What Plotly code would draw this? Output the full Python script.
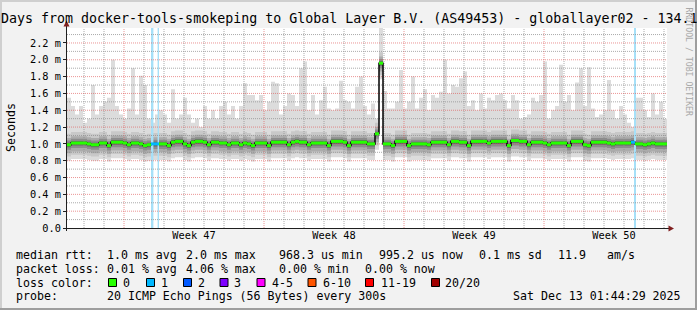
import plotly.graph_objects as go

# ---------------- data ----------------
STEP_DAYS = 0.2          # one smoke column = 0.2 day
X_SPAN_DAYS = 30.0
Y_TOP_MS = 2.378

median_ms = [
    0.99, 1.01, 1.01, 1.01, 1.01, 1.00, 0.99, 0.99, 1.01, 1.01,
    0.98, 1.02, 1.02, 1.02, 1.01, 0.99, 1.01, 1.01, 1.00, 0.98,
    0.99, 1.00, 1.00, 1.00, 1.00, 0.98, 1.02, 1.03, 1.03, 1.00,
    0.98, 1.02, 1.03, 1.03, 1.02, 0.99, 1.02, 1.02,
    1.01, 1.01, 0.99, 1.01, 1.01, 0.99, 1.01, 1.00, 0.98, 1.01,
    1.01, 1.01, 0.98, 1.02, 1.02, 1.02, 1.02, 0.99, 1.02, 1.03,
    1.02, 1.02, 0.99, 1.01, 1.01, 1.01, 1.01, 0.98, 1.03, 1.03,
    1.03, 1.02, 0.98, 1.02, 1.02, 1.02, 1.02,
    1.00, 1.00, 1.12, 1.96, 1.00, 1.00, 0.98, 1.03, 1.03, 1.03,
    0.98, 1.00, 1.00, 1.00, 1.00, 0.99, 1.02, 1.02, 1.02, 1.02,
    0.99, 1.03, 1.03, 1.02, 1.02, 0.98, 1.03, 1.03, 1.03, 1.03,
    1.01, 1.03, 1.03, 1.03, 1.03, 0.98, 1.04, 1.04,
    1.03, 1.03, 0.99, 1.02, 1.02, 1.02, 1.01, 0.99, 1.01, 1.01,
    1.01, 1.01, 0.98, 1.03, 1.03, 1.03, 0.99, 0.98, 1.02, 1.02,
    1.02, 1.02, 1.01, 1.00, 1.01, 1.01, 1.01, 1.01, 1.02, 1.00,
    1.00, 0.99, 1.00, 1.01, 1.00, 1.00, 1.00,
]

max_ms = [
    1.55, 1.45, 1.35, 1.45, 1.25, 1.30, 1.70, 1.35, 1.45, 1.50,
    1.55, 2.00, 1.45, 1.35, 1.30, 1.42, 1.90, 1.35, 1.81, 1.70,
    1.30, 1.25, 1.35, 1.40, 1.35, 1.25, 1.65, 1.30, 1.35, 1.55,
    1.35, 1.25, 1.30, 1.20, 1.45, 1.30, 1.40, 1.30,
    1.45, 1.50, 1.35, 1.45, 1.30, 1.45, 1.72, 1.58, 1.58, 1.52,
    1.58, 1.40, 1.50, 1.74, 1.72, 1.35, 1.45, 1.60, 1.58, 1.45,
    1.90, 1.98, 1.40, 1.58, 1.35, 1.52, 1.68, 1.42, 1.40, 1.42,
    1.75, 1.52, 1.50, 1.42, 1.68, 1.80, 1.45,
    1.35, 1.48, 1.30, 2.40, 1.63, 1.42, 1.42, 1.50, 1.88, 1.42,
    1.50, 1.80, 1.42, 1.55, 1.65, 1.40, 1.58, 1.55, 1.62, 2.00,
    1.60, 1.70, 1.68, 1.78, 1.86, 1.45, 1.52, 1.40, 1.60, 1.42,
    1.55, 1.52, 1.58, 1.60, 1.52, 1.42, 1.58, 1.52,
    1.30, 1.32, 1.35, 1.55, 1.50, 1.58, 1.98, 1.30, 1.40, 1.45,
    1.94, 1.50, 1.58, 1.40, 1.73, 1.90, 1.45, 1.91, 1.42, 1.32,
    1.35, 1.40, 1.76, 1.40, 1.30, 1.45, 1.35, 1.25, 1.20, 1.55,
    1.55, 1.40, 1.32, 1.60, 1.35, 1.50, 1.30,
]

# smoke layers: spread below / above the median (ms), outermost first
smoke_below = [0.19, 0.14, 0.10, 0.06, 0.03, 0.012]
smoke_above = [None, 0.13, 0.08, 0.05, 0.025, 0.008]

# packet-loss events (days from left edge) and number of lost pings
loss_start_day = [4.20, 4.53, 28.35]
loss_end_day = [4.32, 4.60, 28.45]
loss_count = [1, 1, 1]

week_start_day = [2.85, 9.85, 16.85, 23.85]
week_labels = ["Week 47", "Week 48", "Week 49", "Week 50"]
day_grid_first = 0.85
y_major = [0.0, 0.2, 0.4, 0.6, 0.8, 1.0, 1.2, 1.4, 1.6, 1.8, 2.0, 2.2]
y_major_text = ["0.0", "0.2 m", "0.4 m", "0.6 m", "0.8 m", "1.0 m", "1.2 m",
                "1.4 m", "1.6 m", "1.8 m", "2.0 m", "2.2 m"]
y_minor = [0.1, 0.3, 0.5, 0.7, 0.9, 1.1, 1.3, 1.5, 1.7, 1.9, 2.1, 2.3]

title_text = "Days from docker-tools-smokeping to Global Layer B.V. (AS49453) - globallayer02 - 134.1"

legend_rows = [
    [("median rtt:", 16), ("1.0 ms avg", 107.3), ("2.0 ms max", 186), ("968.3 us min", 279.3),
     ("995.2 us now", 379.3), ("0.1 ms sd", 479.3), ("11.9", 558.3), ("am/s", 607.3)],
    [("packet loss:", 16), ("0.01 % avg", 107.3), ("4.06 % max", 186), ("0.00 % min", 279.3),
     ("0.00 % now", 365)],
    [("loss color:", 16)],
    [("probe:", 16), ("20 ICMP Echo Pings (56 Bytes) every 300s", 107.3),
     ("Sat Dec 13 01:44:29 2025", 513.3)],
]
loss_color_labels = ["0", "1", "2", "3", "4-5", "6-10", "11-19", "20/20"]
loss_colors = ["#26ff00", "#00b8ff", "#0059ff", "#7e00ff", "#ff00ff", "#ff5500", "#ff0000", "#a10000"]
loss_box_x = [108, 146, 183, 219.5, 256.5, 307.5, 365, 431]
loss_text_x = [123, 161, 198, 234, 272, 323, 380.7, 445]

# ---------------- geometry / style ----------------
W, H = 697, 310
PL, PR, PT, PB = 67, 667, 28, 228
MONO = "DejaVu Sans Mono"
smoke_colors = ["#dcdcdc", "#c8c8c8", "#ababab", "#8c8c8c", "#666666", "#3c3c3c"]
GRID = "rgba(143,143,143,0.75)"
MGRID = "rgba(222,79,79,0.6)"


def xp(px):
    return (px - PL) / (PR - PL)


def yp(py):
    return (PB - py) / (PB - PT)


n = len(median_ms)
x0s = [i * STEP_DAYS for i in range(n)]

fig = go.Figure()


def band_poly(lo, hi):
    xs, ys = [], []
    for i in range(n):
        xs += [x0s[i], x0s[i] + STEP_DAYS]
        ys += [hi[i], hi[i]]
    for i in reversed(range(n)):
        xs += [x0s[i] + STEP_DAYS, x0s[i]]
        ys += [lo[i], lo[i]]
    return xs, ys


for k, col in enumerate(smoke_colors):
    lo = [median_ms[i] - smoke_below[k] for i in range(n)]
    if smoke_above[k] is None:
        hi = list(max_ms)
    else:
        hi = [min(median_ms[i] + smoke_above[k], max_ms[i]) for i in range(n)]
    xs, ys = band_poly(lo, hi)
    fig.add_trace(go.Scatter(x=xs, y=ys, fill="toself", fillcolor=col, mode="lines",
                             line=dict(width=0), hoverinfo="skip", showlegend=False))

# loss bars
for s, e, c in zip(loss_start_day, loss_end_day, loss_count):
    fig.add_trace(go.Scatter(x=[s, e, e, s, s], y=[0, 0, Y_TOP_MS, Y_TOP_MS, 0], fill="toself",
                             fillcolor="#a6e0f8", mode="lines", line=dict(width=0),
                             hoverinfo="skip", showlegend=False))

# grid (rrdtool draws it over the graph)
def grid_trace(vals, vertical, color):
    xs, ys = [], []
    for v in vals:
        if vertical:
            xs += [v, v, None]
            ys += [0, Y_TOP_MS, None]
        else:
            xs += [0, X_SPAN_DAYS, None]
            ys += [v, v, None]
    return go.Scatter(x=xs, y=ys, mode="lines", line=dict(color=color, width=1, dash="1px,1px"),
                      hoverinfo="skip", showlegend=False)


day_grid = [day_grid_first + d for d in range(int(X_SPAN_DAYS))]
day_grid = [d for d in day_grid if all(abs(d - w) > 1e-6 for w in week_start_day)]
fig.add_trace(grid_trace(day_grid, True, GRID))
fig.add_trace(grid_trace(y_minor, False, GRID))
fig.add_trace(grid_trace(week_start_day, True, MGRID))
fig.add_trace(grid_trace(y_major[1:], False, MGRID))

# median: black step connectors under green horizontal segments
fig.add_trace(go.Scatter(x=x0s + [x0s[-1] + STEP_DAYS], y=median_ms + [median_ms[-1]],
                         mode="lines", line=dict(color="#000000", width=1.5, shape="hv"),
                         hoverinfo="skip", showlegend=False))


def step_has_loss(i):
    a, b = x0s[i], x0s[i] + STEP_DAYS
    return any(a <= s < b for s in loss_start_day)


gx, gy, cx, cy = [], [], [], []
for i in range(n):
    seg_x = [x0s[i], x0s[i] + STEP_DAYS, None]
    seg_y = [median_ms[i], median_ms[i], None]
    if step_has_loss(i):
        cx += seg_x
        cy += seg_y
    else:
        gx += seg_x
        gy += seg_y
fig.add_trace(go.Scatter(x=gx, y=gy, mode="lines", line=dict(color=loss_colors[0], width=3),
                         hoverinfo="skip", showlegend=False))
fig.add_trace(go.Scatter(x=cx, y=cy, mode="lines", line=dict(color=loss_colors[1], width=3),
                         hoverinfo="skip", showlegend=False))

# ---------------- annotations ----------------
ann = []


def text(t, px, py, size, color="#000000", anchor="left", angle=0):
    ann.append(dict(text=t, x=xp(px), y=yp(py), xref="paper", yref="paper", showarrow=False,
                    xanchor=anchor, yanchor="middle", textangle=angle,
                    font=dict(family=MONO, size=size, color=color)))


text(title_text, -1, 18.5, 13.3)
text("RRDTOOL / TOBI OETIKER", 688.5, 62, 8.2, color="#a8a8a8", anchor="center", angle=90)
text("Seconds", 11, 128, 11.6, anchor="center", angle=-90)

row_y = [254.5, 268.5, 282.5, 296.0]
for row, ry in zip(legend_rows, row_y):
    for t, px in row:
        text(t, px - 2, ry, 11.6)
for lab, tx in zip(loss_color_labels, loss_text_x):
    text(lab, tx - 2, row_y[2], 11.6)

shapes = []
for col, bx in zip(loss_colors, loss_box_x):
    shapes.append(dict(type="rect", xref="paper", yref="paper", x0=xp(bx + 0.5), x1=xp(bx + 8.5),
                       y0=yp(278.5), y1=yp(286.5), fillcolor=col,
                       line=dict(color="#000000", width=1)))

# axes with arrows
shapes.append(dict(type="line", xref="paper", yref="paper", x0=xp(66), x1=xp(669),
                   y0=yp(228.5), y1=yp(228.5), line=dict(color="#1f1f1f", width=1)))
shapes.append(dict(type="line", xref="paper", yref="paper", x0=xp(66.5), x1=xp(66.5),
                   y0=yp(231), y1=yp(25), line=dict(color="#1f1f1f", width=1)))
shapes.append(dict(type="path", xref="paper", yref="paper",
                   path="M %f %f L %f %f L %f %f Z" % (xp(668.5), yp(225.5), xp(674), yp(228.5), xp(668.5), yp(231.5)),
                   fillcolor="#801f1f", line=dict(width=0)))
shapes.append(dict(type="path", xref="paper", yref="paper",
                   path="M %f %f L %f %f L %f %f Z" % (xp(63.5), yp(26.5), xp(66.5), yp(20.5), xp(69.5), yp(26.5)),
                   fillcolor="#801f1f", line=dict(width=0)))

# frame shading
shapes.append(dict(type="rect", xref="paper", yref="paper", x0=xp(0), x1=xp(W), y0=yp(0), y1=yp(2),
                   fillcolor="#cfcfcf", line=dict(width=0)))
shapes.append(dict(type="rect", xref="paper", yref="paper", x0=xp(0), x1=xp(2), y0=yp(0), y1=yp(H),
                   fillcolor="#cfcfcf", line=dict(width=0)))
shapes.append(dict(type="rect", xref="paper", yref="paper", x0=xp(W - 2), x1=xp(W), y0=yp(0), y1=yp(H),
                   fillcolor="#9e9e9e", line=dict(width=0)))
shapes.append(dict(type="rect", xref="paper", yref="paper", x0=xp(0), x1=xp(W), y0=yp(H - 2), y1=yp(H),
                   fillcolor="#9e9e9e", line=dict(width=0)))

fig.update_layout(
    width=W, height=H,
    margin=dict(l=PL, r=W - PR, t=PT, b=H - PB),
    paper_bgcolor="#f2f2f2", plot_bgcolor="#ffffff",
    showlegend=False,
    annotations=ann, shapes=shapes,
    xaxis=dict(range=[0, X_SPAN_DAYS], showgrid=False, zeroline=False, showline=False,
               tickvals=[w + 3.5 for w in week_start_day], ticktext=week_labels,
               ticks="", tickfont=dict(family=MONO, size=10.3, color="#000000"), fixedrange=True),
    yaxis=dict(range=[0, Y_TOP_MS], showgrid=False, zeroline=False, showline=False,
               tickvals=y_major, ticktext=y_major_text, ticks="outside", ticklen=3,
               tickcolor="#1f1f1f", tickfont=dict(family=MONO, size=10.3, color="#000000"),
               fixedrange=True),
)

fig.write_html("out.html")
